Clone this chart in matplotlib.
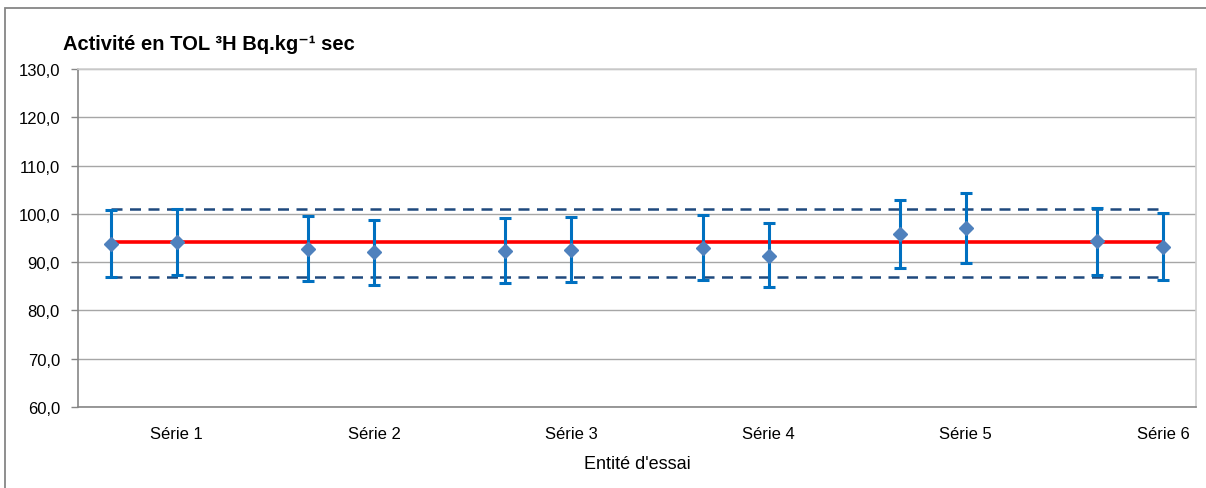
import matplotlib.pyplot as plt
from matplotlib.patches import Rectangle

plt.rcParams['font.family'] = ['Liberation Sans', 'DejaVu Sans']

# data
x_pos = [0.5, 1.5, 3.5, 4.5, 6.5, 7.5, 9.5, 10.5, 12.5, 13.5, 15.5, 16.5]
values = [93.7, 94.1, 92.8, 92.1, 92.3, 92.5, 93.0, 91.3, 95.8, 97.0, 94.4, 93.2]
err_high = [100.8, 101.0, 99.5, 98.8, 99.2, 99.4, 99.7, 98.1, 102.8, 104.3, 101.2, 100.2]
err_low = [86.9, 87.3, 86.0, 85.3, 85.6, 85.8, 86.2, 84.8, 88.8, 89.9, 87.3, 86.4]
series_labels = ['Série 1', 'Série 2', 'Série 3', 'Série 4', 'Série 5', 'Série 6']
label_pos = [1.5, 4.5, 7.5, 10.5, 13.5, 16.5]
ref_value = 94.1
upper_limit = 101.1
lower_limit = 87.0
y_ticks = [60, 70, 80, 90, 100, 110, 120, 130]

fig = plt.figure(figsize=(12.06, 4.89), dpi=100)
ax = fig.add_axes([78 / 1206, 1 - 408 / 489, (1196 - 78) / 1206, (408 - 70) / 489])

# outer chart frame (only left and top edges are visible)
fig.patches.append(Rectangle((5 / 1206, -0.1), 1.2, 1 - 8.5 / 489 + 0.1,
                             transform=fig.transFigure, fill=False,
                             edgecolor='#868686', linewidth=1.3))

xr = [x_pos[0], x_pos[-1]]
ax.plot(xr, [upper_limit, upper_limit], color='#1F497D', lw=1.8,
        dashes=(4.4, 3.0), zorder=2)
ax.plot(xr, [lower_limit, lower_limit], color='#1F497D', lw=1.8,
        dashes=(4.4, 3.0), zorder=2)
ax.plot(xr, [ref_value, ref_value], color='#FF0000', lw=2.6, zorder=3)

yerr = [[v - lo for v, lo in zip(values, err_low)],
        [hi - v for v, hi in zip(values, err_high)]]
ax.errorbar(x_pos, values, yerr=yerr, fmt='none', ecolor='#0070C0',
            elinewidth=2.2, capsize=4.5, capthick=2.2, zorder=4)
ax.plot(x_pos, values, linestyle='none', marker='D', markersize=7,
        color='#4F81BD', zorder=5)

ax.set_xlim(0, 17)
ax.set_ylim(60, 130)
ax.set_yticks(y_ticks)
ax.set_yticklabels([f'{t:.1f}'.replace('.', ',') for t in y_ticks], fontsize=12)
ax.set_xticks(label_pos)
ax.set_xticklabels(series_labels, fontsize=12)
ax.tick_params(axis='x', length=0, pad=14)
ax.tick_params(axis='y', length=5, width=1, color='#868686', pad=8)
ax.grid(axis='y', color='#A6A6A6', linewidth=1)
ax.set_axisbelow(True)
for side in ['left', 'bottom']:
    ax.spines[side].set_color('#868686')
    ax.spines[side].set_linewidth(1.2)
for side in ['top', 'right']:
    ax.spines[side].set_color('#D0D0D0')
    ax.spines[side].set_linewidth(1.2)

ax.set_xlabel("Entité d'essai", fontsize=13, labelpad=10)
fig.text(63 / 1206, 1 - 44 / 489, 'Activité en TOL ³H Bq.kg⁻¹ sec',
         fontsize=14.5, fontweight='bold', va='center', ha='left')

fig.savefig('out.png', dpi=100)
